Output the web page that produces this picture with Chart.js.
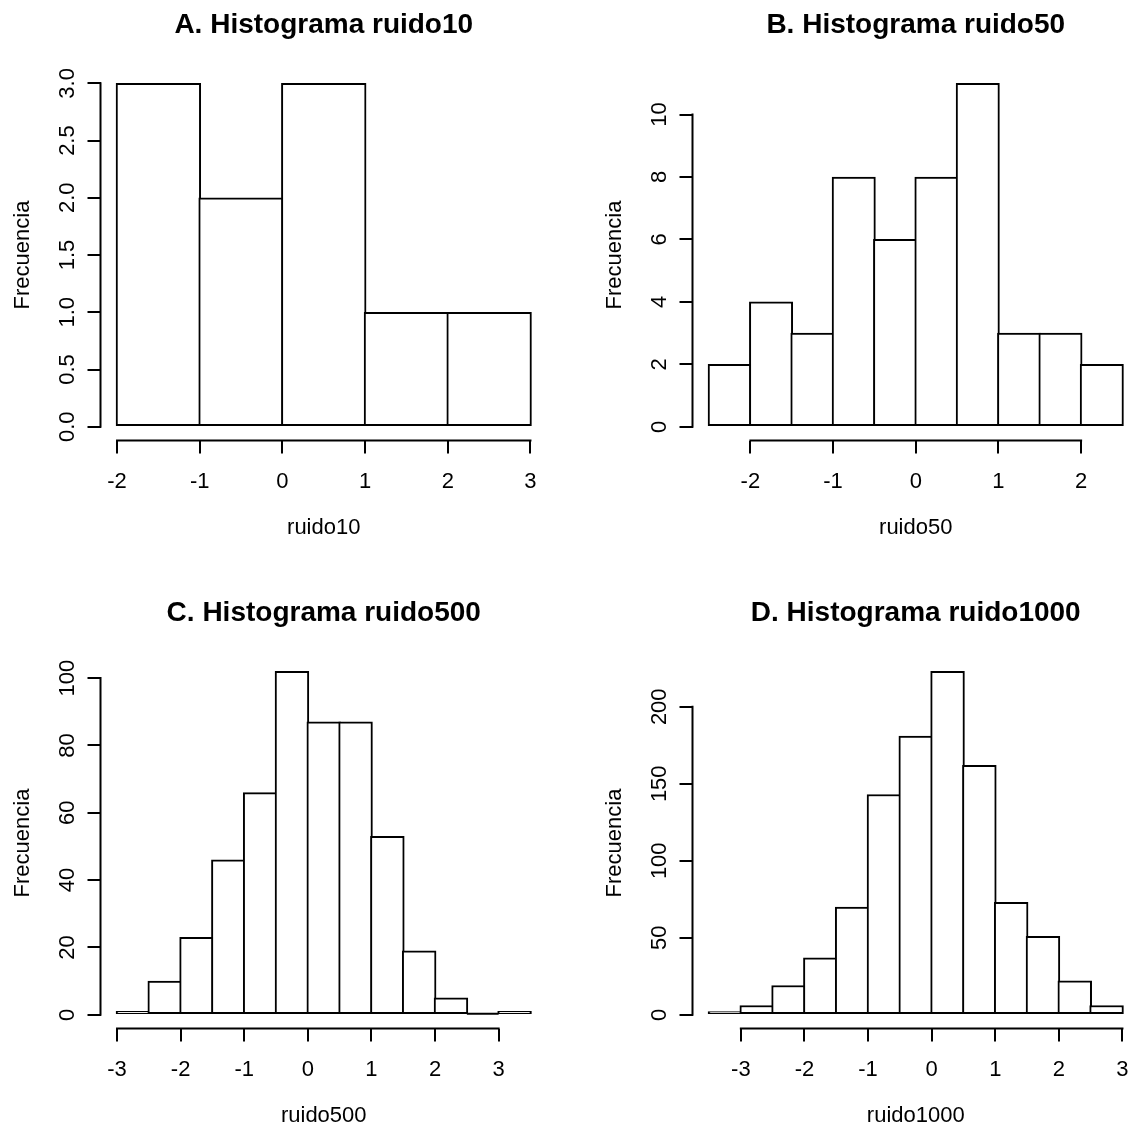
<!DOCTYPE html>
<html>
<head>
<meta charset="utf-8">
<title>Histogramas ruido</title>
<script src="https://cdn.jsdelivr.net/npm/chart.js@4.4.0/dist/chart.umd.min.js"></script>
<style>
  html, body { margin: 0; padding: 0; background: #fff; overflow: hidden; width: 1131px; height: 1131px; }
  .panel { position: absolute; width: 565px; height: 565px; }
  .panel canvas { display: block; }
</style>
</head>
<body>
<div class="panel" style="left:0px;top:0px"><canvas id="histA" width="565" height="565"></canvas></div>
<div class="panel" style="left:592px;top:0px"><canvas id="histB" width="565" height="565"></canvas></div>
<div class="panel" style="left:0px;top:588px"><canvas id="histC" width="565" height="565"></canvas></div>
<div class="panel" style="left:592px;top:588px"><canvas id="histD" width="565" height="565"></canvas></div>
<script>
// bin edges and counts
const breaksA = [-2, -1, 0, 1, 2, 3];
const countsA = [3, 2, 3, 1, 1];

const breaksB = [-2.5, -2, -1.5, -1, -0.5, 0, 0.5, 1, 1.5, 2, 2.5];
const countsB = [2, 4, 3, 8, 6, 8, 11, 3, 3, 2];

const breaksC = [-3, -2.5, -2, -1.5, -1, -0.5, 0, 0.5, 1, 1.5, 2, 2.5, 3, 3.5];
const countsC = [1, 10, 23, 46, 66, 102, 87, 87, 53, 19, 5, 0, 1];

const breaksD = [-3.5, -3, -2.5, -2, -1.5, -1, -0.5, 0, 0.5, 1, 1.5, 2, 2.5, 3];
const countsD = [2, 6, 19, 37, 70, 143, 181, 223, 162, 73, 51, 22, 6];

// axis ticks
const xTicksA = [-2, -1, 0, 1, 2, 3];
const yTicksA = [0, 0.5, 1, 1.5, 2, 2.5, 3];
const yLabelsA = ['0.0', '0.5', '1.0', '1.5', '2.0', '2.5', '3.0'];

const xTicksB = [-2, -1, 0, 1, 2];
const yTicksB = [0, 2, 4, 6, 8, 10];
const yLabelsB = ['0', '2', '4', '6', '8', '10'];

const xTicksC = [-3, -2, -1, 0, 1, 2, 3];
const yTicksC = [0, 20, 40, 60, 80, 100];
const yLabelsC = ['0', '20', '40', '60', '80', '100'];

const xTicksD = [-3, -2, -1, 0, 1, 2, 3];
const yTicksD = [0, 50, 100, 150, 200];
const yLabelsD = ['0', '50', '100', '150', '200'];

Chart.defaults.font.family = "'Liberation Sans', Arial, Helvetica, sans-serif";
Chart.defaults.color = '#000';

const FONT = 22;
const TICK = 13;

// R style axes: the line only runs from the first to the last tick,
// and an empty bin still shows its bottom edge
const rAxes = {
    id: 'rAxes',
    afterDraw(chart) {
        const { ctx, chartArea, scales: { x, y } } = chart;
        const xt = x.ticks, yt = y.ticks;
        ctx.save();
        ctx.strokeStyle = '#000';
        ctx.lineWidth = 2;
        ctx.lineCap = 'square';
        ctx.beginPath();
        ctx.moveTo(x.getPixelForValue(xt[0].value), chartArea.bottom);
        ctx.lineTo(x.getPixelForValue(xt[xt.length - 1].value), chartArea.bottom);
        ctx.moveTo(chartArea.left, y.getPixelForValue(yt[0].value));
        ctx.lineTo(chartArea.left, y.getPixelForValue(yt[yt.length - 1].value));
        ctx.stroke();

        const bins = chart.canvas.$bins;
        if (bins) {
            const y0 = y.getPixelForValue(0) - 1;
            ctx.lineCap = 'butt';
            ctx.beginPath();
            bins.counts.forEach((c, i) => {
                if (c !== 0) return;
                ctx.moveTo(x.getPixelForValue(bins.breaks[i]), y0);
                ctx.lineTo(x.getPixelForValue(bins.breaks[i + 1]), y0);
            });
            ctx.stroke();
        }
        ctx.restore();
    }
};

const probe = document.createElement('canvas').getContext('2d');
probe.font = FONT + "px 'Liberation Sans'";

function histogram(id, title, xTitle, breaks, counts, xTicks, yTicks, yLabels) {
    const lo = breaks[0];
    const hi = breaks[breaks.length - 1];
    const top = Math.max(...counts);
    const binW = breaks[1] - breaks[0];
    const bars = counts.map((c, i) => ({ x: (breaks[i] + breaks[i + 1]) / 2, y: c }));
    const widest = Math.max(...yLabels.map(t => probe.measureText(t).width));

    const canvas = document.getElementById(id);
    canvas.$bins = { breaks, counts };

    return new Chart(canvas, {
        type: 'bar',
        data: {
            datasets: [{
                data: bars,
                backgroundColor: '#fff',
                borderColor: '#000',
                borderWidth: 2,
                borderSkipped: false,
                // one bin wide plus the outline, so neighbours share a single edge
                barThickness: ctx => {
                    const sx = ctx.chart.scales.x;
                    return Math.abs(sx.getPixelForValue(binW) - sx.getPixelForValue(0)) + 2;
                }
            }]
        },
        options: {
            responsive: false,
            animation: false,
            events: [],
            layout: { padding: { left: 0, right: 18, top: 0, bottom: 0 } },
            plugins: {
                legend: { display: false },
                tooltip: { enabled: false },
                title: {
                    display: true,
                    fullSize: false,
                    text: title,
                    color: '#000',
                    font: { size: 28, weight: 'bold' },
                    padding: { top: 8, bottom: 28 }
                }
            },
            scales: {
                x: {
                    type: 'linear',
                    min: lo - 0.04 * (hi - lo),
                    max: hi + 0.04 * (hi - lo),
                    offset: false,
                    afterBuildTicks: s => { s.ticks = xTicks.map(v => ({ value: v })); },
                    afterFit: s => { s.height = 124.5; },
                    grid: { offset: false, drawOnChartArea: false, drawTicks: true, tickLength: TICK, color: '#000', lineWidth: 2 },
                    border: { display: false },
                    ticks: { color: '#000', font: { size: FONT }, padding: 15, autoSkip: false, maxRotation: 0, callback: v => String(v) },
                    title: { display: true, text: xTitle, color: '#000', font: { size: FONT }, padding: { top: 0, bottom: 24 } }
                },
                y: {
                    min: -0.04 * top,
                    max: 1.04 * top,
                    afterBuildTicks: s => { s.ticks = yTicks.map(v => ({ value: v })); },
                    afterFit: s => { s.width = 100.5; },
                    grid: { drawOnChartArea: false, drawTicks: true, tickLength: TICK, color: '#000', lineWidth: 2 },
                    border: { display: false },
                    ticks: {
                        color: '#000', font: { size: FONT }, autoSkip: false,
                        minRotation: 90, maxRotation: 90, crossAlign: 'center',
                        padding: 20 - widest / 2,
                        callback: (v, i) => yLabels[i]
                    },
                    title: { display: true, text: 'Frecuencia', color: '#000', font: { size: FONT }, padding: { top: 10, bottom: 0 } }
                }
            }
        },
        plugins: [rAxes]
    });
}

histogram('histA', 'A. Histograma ruido10', 'ruido10', breaksA, countsA, xTicksA, yTicksA, yLabelsA);
histogram('histB', 'B. Histograma ruido50', 'ruido50', breaksB, countsB, xTicksB, yTicksB, yLabelsB);
histogram('histC', 'C. Histograma ruido500', 'ruido500', breaksC, countsC, xTicksC, yTicksC, yLabelsC);
histogram('histD', 'D. Histograma ruido1000', 'ruido1000', breaksD, countsD, xTicksD, yTicksD, yLabelsD);
</script>
</body>
</html>
